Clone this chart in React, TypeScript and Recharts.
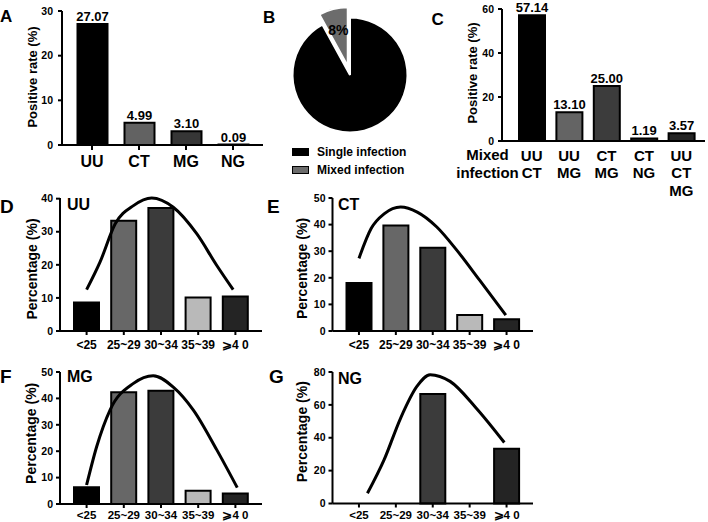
import React from 'react';
import {
  ComposedChart, BarChart, Bar, XAxis, YAxis, Cell, LabelList, Line, PieChart, Pie, Legend,
} from 'recharts';

const FONT = '"Liberation Sans", Arial, Helvetica, sans-serif';

// Panel A: positive rate by pathogen
const pathogens = ['UU', 'CT', 'MG', 'NG'];
const positiveRates = [27.07, 4.99, 3.1, 0.09];
const pathogenColors = ['#000000', '#626262', '#363636', '#363636'];

// Panel B: single vs mixed infection
const infectionTypes = ['Mixed infection', 'Single infection'];
const infectionShares = [8, 92];
const infectionColors = ['#6c6c6c', '#000000'];
const legendOrder = ['Single infection', 'Mixed infection'];

// Panel C: mixed infection combinations
const mixedCombos = ['UU\nCT', 'UU\nMG', 'CT\nMG', 'CT\nNG', 'UU\nCT\nMG'];
const mixedRates = [57.14, 13.1, 25.0, 1.19, 3.57];
const mixedColors = ['#000000', '#646464', '#3c3c3c', '#2a2a2a', '#262626'];

// Panels D-G: age distribution
const ageGroups = ['<25', '25~29', '30~34', '35~39', '⩾4 0'];
const ageColors = ['#000000', '#676767', '#3b3b3b', '#b9b9b9', '#242424'];
const uuAge = [8.6, 33.3, 37.2, 10.1, 10.4];
const ctAge = [18.0, 39.7, 31.3, 6.0, 4.4];
const mgAge = [6.3, 42.3, 42.9, 5.0, 4.0];
const ngAge = [0, 0, 66.67, 0, 33.33];

// fitted trend curves (position along age-group axis, value)
const uuCurveX = [0, 0.36, 0.77, 1.26, 1.75, 2.33, 2.96, 3.5, 3.94];
const uuCurveY = [12.5, 20.8, 32.4, 37.9, 40.2, 37.4, 29.4, 19.8, 12.5];
const ctCurveX = [0, 0.33, 0.69, 1.13, 1.58, 2.11, 2.65, 3.27, 3.98];
const ctCurveY = [27.3, 38.5, 44.1, 46.6, 44.7, 39.1, 30.4, 19.1, 6.0];
const mgCurveX = [0, 0.27, 0.63, 1.26, 1.79, 2.33, 2.87, 3.5, 4.05];
const mgCurveY = [7.2, 21.7, 35.6, 45.7, 48.6, 44.3, 35.6, 20.5, 6.2];
const ngCurveX = [0.23, 0.68, 1.13, 1.57, 1.93, 2.47, 3.18, 3.94];
const ngCurveY = [6.2, 26.5, 52, 71.2, 78.4, 74.3, 58, 37.1];

const AXIS = { stroke: '#000', strokeWidth: 2 };

function XTick(props: any) {
  const { x, y, payload, size } = props;
  return (
    <text x={x} y={y} dy="0.71em" textAnchor="middle" fontSize={size} fontWeight="bold" fill="#000"
      fontFamily={FONT}>{payload.value}</text>
  );
}

function YTick(props: any) {
  const { x, y, payload, size } = props;
  return (
    <text x={x} y={y} dy="0.355em" textAnchor="end" fontSize={size} fontWeight="bold" fill="#000"
      fontFamily={FONT}>{payload.value}</text>
  );
}

function ComboTick(props: any) {
  const { x, y, payload } = props;
  const lines = String(payload.value).split('\n');
  return (
    <text x={x} y={y} textAnchor="middle" fontSize={15} fontWeight="bold" fill="#000" fontFamily={FONT}>
      {lines.map((l, i) => (
        <tspan key={i} x={x} dy={i === 0 ? 19.5 : 17.5}>{l}</tspan>
      ))}
    </text>
  );
}

function AgePanel(props: any) {
  const { left, top, values, curveX, curveY, max, ticks, margin, yWidth, xMargin, xSize } = props;
  const data = ageGroups.map((age, i) => ({ age, v: values[i] }));
  const curve = curveX.map((x: number, i: number) => ({ x, y: curveY[i] }));
  return (
    <div style={{ position: 'absolute', left, top }}>
      <ComposedChart width={270} height={180} data={data} margin={margin}>
        <XAxis xAxisId="cat" dataKey="age" type="category" padding={{ left: 8, right: 8 }} interval={0}
          tickSize={4} tickMargin={xMargin} tick={<XTick size={xSize} />} axisLine={AXIS} tickLine={AXIS} height={25} />
        <XAxis xAxisId="num" dataKey="x" type="number" domain={[-0.5, 4.5]} hide height={0}
          padding={{ left: 8, right: 8 }} allowDataOverflow />
        <YAxis width={yWidth} domain={[0, max]} ticks={ticks} interval={0} tickSize={4} tickMargin={3}
          tick={<YTick size={10.5} />} axisLine={AXIS} tickLine={AXIS} />
        <Bar xAxisId="cat" dataKey="v" barSize={25} stroke="#000" strokeWidth={2} isAnimationActive={false}>
          {data.map((d, i) => <Cell key={i} fill={ageColors[i]} />)}
        </Bar>
        <Line xAxisId="num" data={curve} dataKey="y" type="monotone" stroke="#000" strokeWidth={3}
          dot={false} activeDot={false} isAnimationActive={false} />
      </ComposedChart>
    </div>
  );
}

const renderPct = (p: any) => {
  if (p.index !== 0) return null;
  const RAD = Math.PI / 180;
  const r = p.outerRadius * 0.635;
  const x = p.cx + r * Math.cos(-p.midAngle * RAD);
  const y = p.cy + r * Math.sin(-p.midAngle * RAD);
  return (
    <text x={x} y={y} textAnchor="middle" dominantBaseline="central" fontSize={14} fontWeight="bold"
      fill="#000" fontFamily={FONT}>{`${p.value}%`}</text>
  );
};

function PieLegend() {
  return (
    <div style={{ fontFamily: FONT, fontWeight: 700, fontSize: 12, color: '#000' }}>
      {legendOrder.map((name) => {
        const idx = infectionTypes.indexOf(name);
        return (
          <div key={name} style={{ display: 'flex', alignItems: 'center', height: 18 }}>
            <span style={{ display: 'inline-block', width: 15, height: 6, background: infectionColors[idx],
              border: '1px solid #000', marginRight: 8 }} />
            <span>{name}</span>
          </div>
        );
      })}
    </div>
  );
}

function RotText({ x, y, size, children }: any) {
  return (
    <text x={x} y={y} transform={`rotate(-90 ${x} ${y})`} textAnchor="middle" dominantBaseline="central"
      fontSize={size} fontWeight="bold" fill="#000" fontFamily={FONT}>{children}</text>
  );
}

function T({ x, y, size, children, anchor }: any) {
  return (
    <text x={x} y={y} fontSize={size} fontWeight="bold" fill="#000" fontFamily={FONT}
      textAnchor={anchor || 'start'}>{children}</text>
  );
}

export default function App() {
  const aData = pathogens.map((p, i) => ({ p, v: positiveRates[i] }));
  const cData = mixedCombos.map((c, i) => ({ c, v: mixedRates[i] }));
  const pieData = infectionTypes.map((name, i) => ({ name, value: infectionShares[i] }));
  const fmt = (v: any) => Number(v).toFixed(2);

  return (
    <div style={{ position: 'fixed', left: 0, top: 0, width: 708, height: 522, background: '#fff', overflow: 'hidden' }}>
      {/* Panel A */}
      <div style={{ position: 'absolute', left: 0, top: 0 }}>
        <BarChart width={270} height={185} data={aData} margin={{ top: 11, right: 7, bottom: 5, left: 0 }}>
          <XAxis dataKey="p" padding={{ left: 6.5, right: 6.5 }} interval={0} tickSize={5} tickMargin={6}
            tick={<XTick size={16} />} axisLine={AXIS} tickLine={AXIS} height={35} />
          <YAxis width={62} domain={[0, 30]} ticks={[0, 10, 20, 30]} interval={0} tickSize={4} tickMargin={5}
            tick={<YTick size={10.5} />} axisLine={AXIS} tickLine={AXIS} />
          <Bar dataKey="v" barSize={30} stroke="#000" strokeWidth={2} isAnimationActive={false}>
            {aData.map((d, i) => <Cell key={i} fill={pathogenColors[i]} />)}
            <LabelList dataKey="v" position="top" offset={3} formatter={fmt}
              style={{ fontSize: 13, fontWeight: 700, fill: '#000', fontFamily: FONT }} />
          </Bar>
        </BarChart>
      </div>

      {/* Panel B */}
      <div style={{ position: 'absolute', left: 260, top: 0 }}>
        <PieChart width={180} height={185} margin={{ top: 0, right: 0, bottom: 0, left: 0 }}>
          <Pie data={pieData} dataKey="value" nameKey="name" cx={90} cy={75} outerRadius={57.5}
            startAngle={90} endAngle={450} isAnimationActive={false} labelLine={false}>
            <Cell fill="none" stroke="none" />
            <Cell fill={infectionColors[1]} stroke="#fff" strokeWidth={2} />
          </Pie>
          <Pie data={pieData} dataKey="value" nameKey="name" cx={87.5} cy={65} outerRadius={57.5}
            startAngle={90} endAngle={450} isAnimationActive={false} labelLine={false} label={renderPct}>
            <Cell fill={infectionColors[0]} stroke="#fff" strokeWidth={1.5} />
            <Cell fill="none" stroke="none" />
          </Pie>
          <Legend content={<PieLegend />}
            wrapperStyle={{ left: 32, top: 143, bottom: 'auto', width: 150, height: 36 }} />
        </PieChart>
      </div>

      {/* Panel C */}
      <div style={{ position: 'absolute', left: 430, top: 0 }}>
        <BarChart width={278} height={200} data={cData} margin={{ top: 9, right: 3, bottom: 0, left: 0 }}>
          <XAxis dataKey="c" padding={{ left: 11, right: 5 }} interval={0} tickSize={0} tickMargin={0}
            tick={<ComboTick />} axisLine={AXIS} tickLine={false} height={59} />
          <YAxis width={72} domain={[0, 60]} ticks={[0, 20, 40, 60]} interval={0} tickSize={4} tickMargin={4}
            tick={<YTick size={10.5} />} axisLine={AXIS} tickLine={AXIS} />
          <Bar dataKey="v" barSize={26} stroke="#000" strokeWidth={2} isAnimationActive={false}>
            {cData.map((d, i) => <Cell key={i} fill={mixedColors[i]} />)}
            <LabelList dataKey="v" position="top" offset={3} formatter={fmt}
              style={{ fontSize: 13, fontWeight: 700, fill: '#000', fontFamily: FONT }} />
          </Bar>
        </BarChart>
      </div>

      {/* Panels D-G */}
      <AgePanel left={0} top={185} values={uuAge} curveX={uuCurveX} curveY={uuCurveY} max={40}
        ticks={[0, 10, 20, 30, 40]} yWidth={60} xMargin={5} xSize={12}
        margin={{ top: 13, right: 8, bottom: 9, left: 0 }} />
      <AgePanel left={270} top={185} values={ctAge} curveX={ctCurveX} curveY={ctCurveY} max={50}
        ticks={[0, 10, 20, 30, 40, 50]} yWidth={62.5} xMargin={5} xSize={12}
        margin={{ top: 13, right: 7, bottom: 9, left: 0 }} />
      <AgePanel left={0} top={355} values={mgAge} curveX={mgCurveX} curveY={mgCurveY} max={50}
        ticks={[0, 10, 20, 30, 40, 50]} yWidth={60} xMargin={3} xSize={11.5}
        margin={{ top: 17, right: 8, bottom: 6, left: 0 }} />
      <AgePanel left={270} top={355} values={ngAge} curveX={ngCurveX} curveY={ngCurveY} max={80}
        ticks={[0, 20, 40, 60, 80]} yWidth={62.5} xMargin={3} xSize={11.5}
        margin={{ top: 17, right: 7, bottom: 6.5, left: 0 }} />

      {/* Text overlay: panel letters, titles, axis titles */}
      <svg width={708} height={522} style={{ position: 'absolute', left: 0, top: 0, pointerEvents: 'none' }}>
        <T x={0} y={21.7} size={17}>A</T>
        <T x={263} y={23.3} size={17}>B</T>
        <T x={431.5} y={25} size={17}>C</T>
        <T x={0} y={213} size={19}>D</T>
        <T x={267} y={213} size={19}>E</T>
        <T x={0} y={383} size={19}>F</T>
        <T x={269} y={383} size={19}>G</T>

        <T x={67} y={210} size={16}>UU</T>
        <T x={338} y={210} size={16}>CT</T>
        <T x={67} y={382} size={16}>MG</T>
        <T x={338} y={384} size={16}>NG</T>

        <T x={487.5} y={160.4} size={15} anchor="middle">Mixed</T>
        <T x={487.5} y={178.4} size={15} anchor="middle">infection</T>

        <RotText x={32} y={77} size={13}>Positive rate (%)</RotText>
        <RotText x={472.5} y={73} size={13}>Positive rate (%)</RotText>
        <RotText x={32} y={269} size={14}>Percentage (%)</RotText>
        <RotText x={302} y={268.5} size={14}>Percentage (%)</RotText>
        <RotText x={31} y={433.3} size={14}>Percentage (%)</RotText>
        <RotText x={302.5} y={431.7} size={14}>Percentage (%)</RotText>
      </svg>
    </div>
  );
}
